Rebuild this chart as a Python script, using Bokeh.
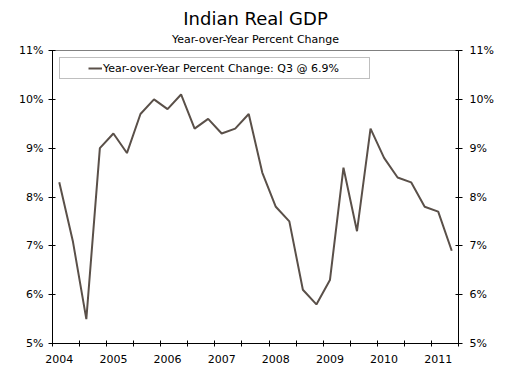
from bokeh.plotting import figure
from bokeh.models import (Title, Legend, LegendItem, FixedTicker, LinearAxis,
                          Range1d, PrintfTickFormatter, ColumnDataSource)
from bokeh.embed import file_html
from bokeh.resources import INLINE

# Quarterly data: 2004 Q2 .. 2011 Q3
gdp_yoy = [8.3, 7.1, 5.5, 9.0, 9.3, 8.9, 9.7, 10.0, 9.8, 10.1,
           9.4, 9.6, 9.3, 9.4, 9.7, 8.5, 7.8, 7.5, 6.1, 5.8,
           6.3, 8.6, 7.3, 9.4, 8.8, 8.4, 8.3, 7.8, 7.7, 6.9]
year_labels = ["2004", "2005", "2006", "2007", "2008", "2009", "2010", "2011"]
y_ticks = [5, 6, 7, 8, 9, 10, 11]
last_quarter = "Q3"

n = len(gdp_yoy)
idx = list(range(n))
FONT = "DejaVu Sans"
LINE = "#5a5049"

src = ColumnDataSource(dict(x=idx, y=gdp_yoy))

p = figure(width=505, height=376, output_backend="svg", toolbar_location=None,
           x_range=Range1d(-0.5, n - 0.5), y_range=Range1d(y_ticks[0], y_ticks[-1]),
           x_axis_location=None, y_axis_location=None,
           min_border_left=52, min_border_right=47, min_border_top=50, min_border_bottom=33)
p.outline_line_color = "#808080"
p.outline_line_width = 1
p.background_fill_color = "white"
p.border_fill_color = "white"
p.grid.grid_line_color = None

r = p.line("x", "y", source=src, line_color=LINE, line_width=2)

# x axis: year labels on category centres, tick marks between pairs of categories
label_pos = list(range(0, n, 4))
tick_pos = [i - 0.5 for i in range(0, n + 1, 2)]
xaxis = LinearAxis(ticker=FixedTicker(ticks=label_pos, minor_ticks=tick_pos),
                   major_label_overrides={pos: lab for pos, lab in zip(label_pos, year_labels)},
                   major_tick_in=0, major_tick_out=0,
                   minor_tick_in=3, minor_tick_out=3,
                   minor_tick_line_color="black", axis_line_color="black",
                   major_label_standoff=8,
                   major_label_text_font=FONT, major_label_text_font_size="11px",
                   major_label_text_color="black")
p.add_layout(xaxis, "below")

for side, stand in (("left", 5), ("right", 7)):
    ax = LinearAxis(ticker=FixedTicker(ticks=y_ticks),
                    formatter=PrintfTickFormatter(format="%d%%"),
                    major_tick_in=3, major_tick_out=4,
                    minor_tick_in=0, minor_tick_out=0,
                    major_tick_line_color="black", axis_line_color="black",
                    major_label_standoff=stand,
                    major_label_text_font=FONT, major_label_text_font_size="11px",
                    major_label_text_color="black")
    p.add_layout(ax, side)

legend = Legend(items=[LegendItem(label=f"Year-over-Year Percent Change: {last_quarter} @ {gdp_yoy[-1]}%",
                                  renderers=[r])],
                location="top_left", margin=7, padding=3, spacing=0,
                title=" ", title_location="left", title_text_font_size="19px",
                title_standoff=3,
                border_line_color="#808080", border_line_width=1.5,
                label_text_font=FONT, label_text_font_size="11px", label_text_color="black",
                glyph_width=14, glyph_height=14, label_height=14, label_standoff=1,
                label_width=263,
                background_fill_color="white")
p.add_layout(legend, "center")

p.add_layout(Title(text="Year-over-Year Percent Change", align="center",
                   text_font=FONT, text_font_size="11px", text_font_style="normal",
                   text_color="black", standoff=10, offset=-2), "above")
p.add_layout(Title(text="Indian Real GDP", align="center",
                   text_font=FONT, text_font_size="18px", text_font_style="normal",
                   text_color="black", standoff=-6, offset=-2), "above")

open("out.html", "w").write(file_html(p, INLINE))
